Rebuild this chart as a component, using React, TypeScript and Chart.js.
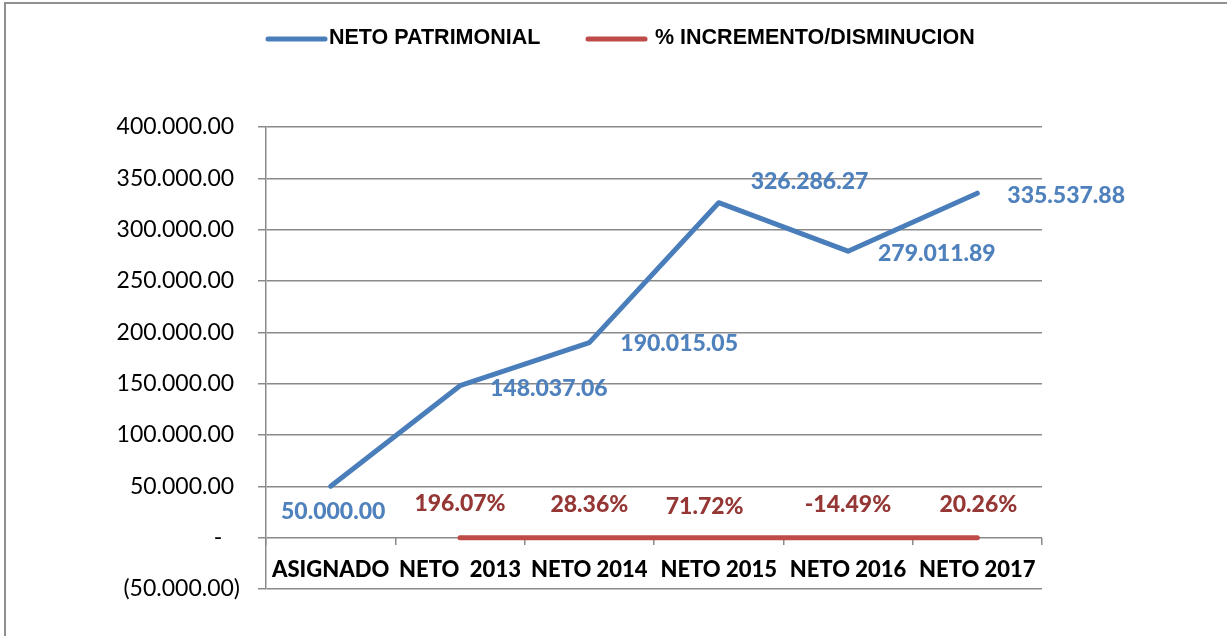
import React, { useEffect, useRef } from 'react';
import { Chart, registerables } from 'chart.js';

Chart.register(...registerables);

// ---- Data ----
const categories: string[] = ['ASIGNADO', 'NETO  2013', 'NETO 2014', 'NETO 2015', 'NETO 2016', 'NETO 2017'];
const netoPatrimonial: number[] = [50000, 148037.06, 190015.05, 326286.27, 279011.89, 335537.88];
const incrementoDisminucion: (number | null)[] = [null, 1.9607, 0.2836, 0.7172, -0.1449, 0.2026];
const seriesLabels: string[] = ['NETO PATRIMONIAL', '% INCREMENTO/DISMINUCION'];
const yMin = -50000;
const yMax = 400000;
const yStep = 50000;

// ---- Styles ----
const BLUE_LINE = '#4A7EBB';
const RED_LINE = '#BE4B48';
const BLUE_TEXT = '#4F81BD';
const RED_TEXT = '#953735';
const GRID = '#8a8a8a';
const LABEL_FONT = 'Lato';

// label placement (offset in px from point, alignment)
const blueLabelPlacement: [number, number, CanvasTextAlign][] = [
  [2.5, 25, 'center'],
  [30, 3, 'left'],
  [31, 1, 'left'],
  [32, -21, 'left'],
  [30, 2, 'left'],
  [30, 2, 'left'],
];
const redLabelPlacement: [number, number][] = [
  [0, 0],
  [0, -34],
  [0, -33],
  [-14, -31],
  [0, -33],
  [1, -33],
];

function fmtNum(v: number): string {
  const [i, d] = Math.abs(v).toFixed(2).split('.');
  return i.replace(/\B(?=(\d{3})+(?!\d))/g, '.') + '.' + d;
}

function fmtTick(v: number): string {
  if (v === 0) return '-   ';
  if (v < 0) return '(' + fmtNum(v) + ')';
  return fmtNum(v) + ' ';
}

const frameAndLegendPlugin = {
  id: 'frameAndLegend',
  afterDraw(chart: any) {
    const ctx = chart.ctx as CanvasRenderingContext2D;
    ctx.save();
    // outer frame (left & top)
    ctx.strokeStyle = '#909090';
    ctx.lineWidth = 2;
    ctx.beginPath();
    ctx.moveTo(5, 636);
    ctx.lineTo(5, 3);
    ctx.lineTo(1227, 3);
    ctx.stroke();

    // legend
    const items = [
      { x: 268, tx: 329, color: BLUE_LINE, text: chart.data.datasets[0].label },
      { x: 588, tx: 655, color: RED_LINE, text: chart.data.datasets[1].label },
    ];
    ctx.font = 'bold 21.5px "Liberation Sans", Arial, sans-serif';
    ctx.textBaseline = 'middle';
    ctx.textAlign = 'left';
    for (const it of items) {
      ctx.strokeStyle = it.color;
      ctx.lineWidth = 5;
      ctx.lineCap = 'round';
      ctx.beginPath();
      ctx.moveTo(it.x, 39);
      ctx.lineTo(it.x + 57, 39);
      ctx.stroke();
      ctx.fillStyle = '#000';
      ctx.fillText(it.text, it.tx, 38.5);
    }
    ctx.restore();
  },
};

const dataLabelPlugin = {
  id: 'dataLabels',
  afterDatasetsDraw(chart: any) {
    const ctx = chart.ctx as CanvasRenderingContext2D;
    ctx.save();
    ctx.font = `900 23px ${LABEL_FONT}, sans-serif`;
    ctx.textBaseline = 'middle';
    const m0 = chart.getDatasetMeta(0);
    m0.data.forEach((pt: any, i: number) => {
      const v = chart.data.datasets[0].data[i];
      if (v == null) return;
      const [dx, dy, al] = blueLabelPlacement[i];
      ctx.fillStyle = BLUE_TEXT;
      ctx.textAlign = al;
      ctx.fillText(fmtNum(v), pt.x + dx, pt.y + dy);
    });
    const m1 = chart.getDatasetMeta(1);
    m1.data.forEach((pt: any, i: number) => {
      const v = chart.data.datasets[1].data[i];
      if (v == null) return;
      const [dx, dy] = redLabelPlacement[i];
      ctx.fillStyle = RED_TEXT;
      ctx.textAlign = 'center';
      ctx.fillText((v * 100).toFixed(2) + '%', pt.x + dx, pt.y + dy);
    });
    ctx.restore();
  },
};

export default function App() {
  const ref = useRef<HTMLCanvasElement | null>(null);

  useEffect(() => {
    if (!ref.current) return;
    const chart = new Chart(ref.current, {
      type: 'line',
      data: {
        labels: categories,
        datasets: [
          {
            label: seriesLabels[0],
            data: netoPatrimonial,
            borderColor: BLUE_LINE,
            backgroundColor: BLUE_LINE,
            borderWidth: 5,
            pointRadius: 0,
            tension: 0,
            borderCapStyle: 'round',
            borderJoinStyle: 'round',
          },
          {
            label: seriesLabels[1],
            data: incrementoDisminucion,
            borderColor: RED_LINE,
            backgroundColor: RED_LINE,
            borderWidth: 5,
            pointRadius: 0,
            tension: 0,
            borderCapStyle: 'round',
            borderJoinStyle: 'round',
          },
        ],
      },
      options: {
        responsive: false,
        animation: false,
        layout: { padding: { top: 127, right: 185, bottom: 47, left: 0 } },
        plugins: {
          legend: { display: false },
          tooltip: { enabled: false },
        },
        scales: {
          x: {
            type: 'category',
            position: { y: 0 } as any,
            offset: true,
            grid: {
              display: true,
              drawOnChartArea: false,
              drawTicks: true,
              tickLength: 7,
              color: GRID,
              lineWidth: 1.5,
              offset: true,
            },
            border: { display: false },
            ticks: {
              color: '#000',
              font: { family: LABEL_FONT, size: 22, weight: '900' as any },
              padding: 12,
              maxRotation: 0,
              autoSkip: false,
            },
          },
          y: {
            min: yMin,
            max: yMax,
            grid: { color: GRID, lineWidth: 1.5, tickLength: 8, drawTicks: true },
            border: { display: true, color: GRID, width: 1.5 },
            ticks: {
              stepSize: yStep,
              color: '#000',
              font: { family: LABEL_FONT, size: 23 },
              padding: 18,
              callback: (v: any) => fmtTick(Number(v)),
            },
            afterFit: (s: any) => {
              s.width = 266;
            },
          },
        },
      },
      plugins: [dataLabelPlugin, frameAndLegendPlugin],
    });
    return () => chart.destroy();
  }, []);

  return (
    <div style={{ position: 'absolute', left: 0, top: 0, width: 1227, height: 636, background: '#fff' }}>
      <canvas ref={ref} width={1227} height={636} style={{ display: 'block', width: 1227, height: 636 }} />
    </div>
  );
}
